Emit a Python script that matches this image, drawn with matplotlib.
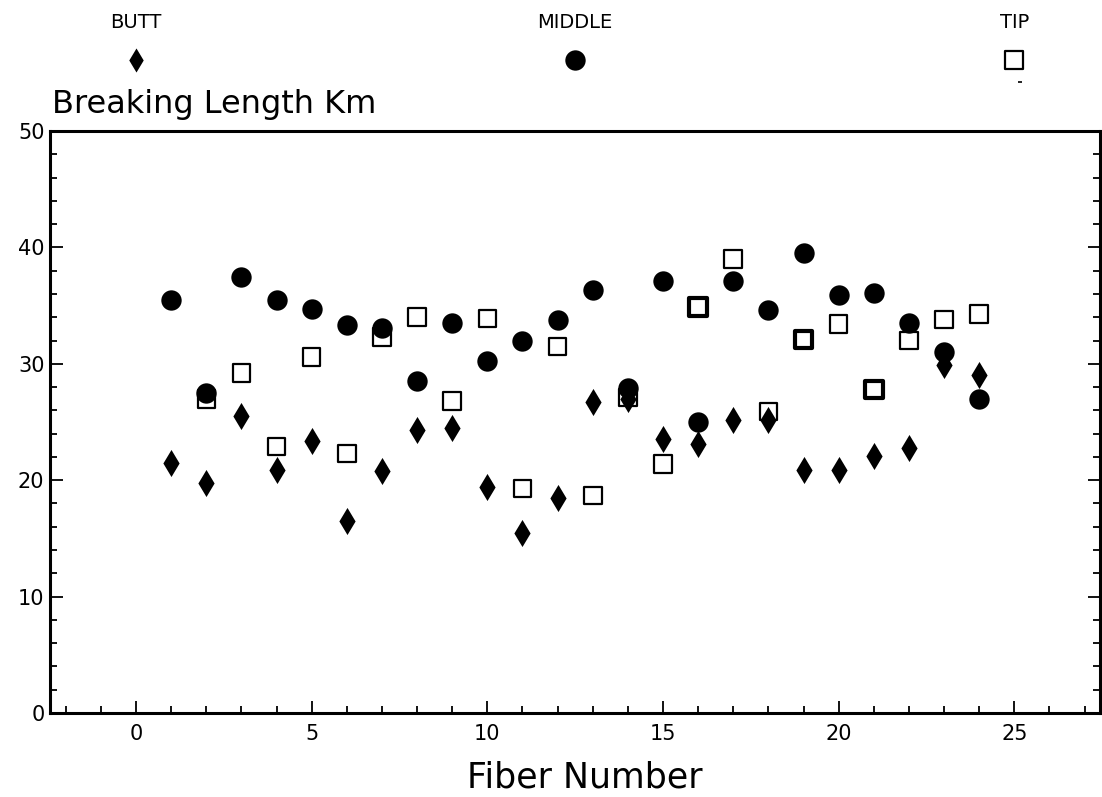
import matplotlib
matplotlib.use("Agg")
from matplotlib import pyplot as plt
from matplotlib.ticker import MultipleLocator
import matplotlib.transforms as mtransforms

fiber = list(range(1, 25))

butt = [21.5, 19.8, 25.5, 20.9, 23.4, 16.5, 20.8, 24.3, 24.5, 19.4, 15.5, 18.5,
        26.7, 27.0, 23.5, 23.1, 25.2, 25.2, 20.9, 20.9, 22.1, 22.8, 29.9, 29.0]
middle = [35.5, 27.5, 37.5, 35.5, 34.7, 33.3, 33.1, 28.5, 33.5, 30.2, 32.0, 33.8,
          36.3, 27.9, 37.1, 25.0, 37.1, 34.6, 39.5, 35.9, 36.1, 33.5, 31.0, 27.0]
tip = [27.0, 29.2, 22.9, 30.6, 22.3, 32.3, 34.0, 26.8, 33.9, 19.3, 31.5, 18.7,
       27.1, 21.4, 34.9, 39.0, 25.9, 32.1, 33.4, 27.8, 32.0, 33.8, 34.3]
tip_fiber = list(range(2, 25))

legend_names = ["BUTT", "MIDDLE", "TIP"]
legend_x = [0, 12.5, 25]

# a few of the squares are printed with a heavier outline
tip_heavy = [16, 19, 21]
tip_lw = [3.0 if f in tip_heavy else 1.6 for f in tip_fiber]

fig = plt.figure(figsize=(11.02, 7.97), dpi=100)
ax = fig.add_axes([50 / 1102, 1 - 713 / 797, 1050 / 1102, 582 / 797])

ax.scatter(tip_fiber, tip, marker="s", s=160, facecolors="white",
           edgecolors="black", linewidths=tip_lw, zorder=3)
ax.scatter(fiber, butt, marker="d", s=190, color="black", linewidths=0, zorder=4)
ax.scatter(fiber, middle, marker="o", s=215, color="black", linewidths=0, zorder=5)

ax.set_xlim(-2.45, 27.44)
ax.set_ylim(0, 50)

ax.xaxis.set_major_locator(MultipleLocator(5))
ax.xaxis.set_minor_locator(MultipleLocator(1))
ax.yaxis.set_major_locator(MultipleLocator(10))
ax.yaxis.set_minor_locator(MultipleLocator(2))

ax.tick_params(which="both", direction="in", left=True, right=True, top=False,
               bottom=True, width=1.3, labelsize=15)
ax.tick_params(which="major", length=9)
ax.tick_params(which="minor", length=5)
ax.tick_params(axis="x", pad=8)
ax.tick_params(axis="y", pad=4)

for side in ["left", "bottom", "top", "right"]:
    ax.spines[side].set_linewidth(2.2)

# legend row above the frame: label on top, marker underneath
tr = mtransforms.blended_transform_factory(ax.transData, fig.transFigure)
legend_markers = [dict(marker="d", s=150, color="black", linewidths=0),
                  dict(marker="o", s=215, color="black", linewidths=0),
                  dict(marker="s", s=160, facecolors="white", edgecolors="black", linewidths=1.6)]
for name, x, mk in zip(legend_names, legend_x, legend_markers):
    ax.text(x, 1 - 22 / 797, name, transform=tr, ha="center", va="center", fontsize=14)
    ax.scatter([x], [1 - 60 / 797], transform=tr, clip_on=False, **mk)
ax.scatter([legend_x[2] + 0.15], [1 - 82 / 797], transform=tr, clip_on=False,
           marker="_", s=12, color="black", linewidths=1.2)

fig.text(52 / 1102, 1 - 104 / 797, "Breaking Length Km", ha="left", va="center", fontsize=23)
fig.text(585 / 1102, 1 - 778 / 797, "Fiber Number", ha="center", va="center", fontsize=25)

fig.savefig("out.png", dpi=100, facecolor="white")
